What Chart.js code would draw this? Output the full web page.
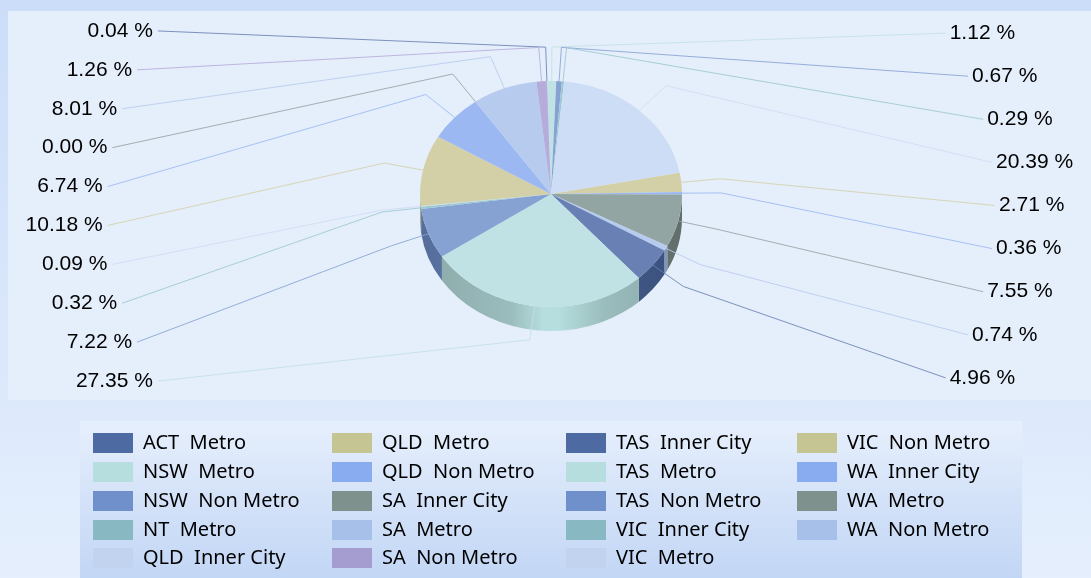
<!DOCTYPE html>
<html>
<head>
<meta charset="utf-8">
<script src="https://cdn.jsdelivr.net/npm/chart.js@4/dist/chart.umd.min.js"></script>
<style>
  html, body { margin: 0; padding: 0; background: #dce7f9; overflow: hidden; }
  #wrap { width: 1091px; height: 578px; position: relative; }
</style>
</head>
<body>
<div id="wrap"><canvas id="myChart" width="1091" height="578"></canvas></div>
<script>
// slices in the order they run clockwise round the pie
const categories = [
  'ACT  Metro', 'NSW  Metro', 'NSW  Non Metro', 'NT  Metro', 'QLD  Inner City',
  'QLD  Metro', 'QLD  Non Metro', 'SA  Inner City', 'SA  Metro', 'TAS  Inner City',
  'TAS  Metro', 'TAS  Non Metro', 'VIC  Inner City', 'VIC  Metro', 'VIC  Non Metro',
  'WA  Inner City', 'WA  Metro', 'WA  Non Metro', 'SA  Non Metro',
];
const shares = [
  0.04, 1.12, 0.67, 0.29, 20.39, 2.71, 0.36, 7.55, 0.74, 4.96,
  27.35, 7.22, 0.32, 0.09, 10.18, 6.74, 0.0, 8.01, 1.26,
];
// legend swatch, lighter top face
const swatchColors = [
  '#4e6aa3', '#b6dede', '#7090cb', '#88b9c3', '#c2d3f0', '#c4c592', '#89abf0', '#7f918d', '#a7c0ea',
  '#4e6aa3', '#b6dede', '#7090cb', '#88b9c3', '#c2d3f0', '#c4c592', '#89abf0', '#7f918d', '#a7c0ea', '#a59dd0',
];
const faceColors = [
  '#6880b4', '#c1e2e4', '#86a2d3', '#9cc8d0', '#cdddf5', '#d3d0a8', '#9bb8f2', '#93a5a3', '#b6cbee',
  '#6880b4', '#c1e2e4', '#86a2d3', '#9cc8d0', '#cdddf5', '#d3d0a8', '#9bb8f2', '#93a5a3', '#b6cbee', '#b5acdb',
];
const legendColumns = [93, 332, 566, 797];
const legendRows = [443, 472, 501, 530, 558];

const squash = 113 / 131;
const depth = 24;
const elbowFactor = 1.3;

function shade(hex, f) {
  const n = parseInt(hex.slice(1), 16);
  const c = [n >> 16, (n >> 8) & 255, n & 255].map((v) => Math.round(v * f));
  return 'rgb(' + c.join(',') + ')';
}

const background = {
  id: 'background',
  beforeDraw(chart) {
    const c = chart.ctx;
    let g = c.createLinearGradient(0, 0, 0, 578);
    g.addColorStop(0, '#cbddf8');
    g.addColorStop(1, '#e5effd');
    c.fillStyle = g;
    c.fillRect(0, 0, 1091, 578);
    c.fillStyle = '#e5eefb';
    c.fillRect(8, 11, 1083, 389);
    g = c.createLinearGradient(0, 421, 0, 578);
    g.addColorStop(0, '#e6effc');
    g.addColorStop(1, '#c2d6f5');
    c.fillStyle = g;
    c.fillRect(80, 421, 942, 157);
  },
};

// side wall of the pie, then squash the arcs into an ellipse
const tilt = {
  id: 'tilt',
  beforeDatasetsDraw(chart) {
    const c = chart.ctx;
    const arcs = chart.getDatasetMeta(0).data;
    arcs.forEach((arc, i) => {
      const r = arc.outerRadius;
      const start = arc.startAngle;
      const end = arc.endAngle;
      // only the part facing the viewer: 0..PI in canvas angles
      for (const shift of [0, Math.PI * 2]) {
        const s = Math.max(start, shift);
        const e = Math.min(end, shift + Math.PI);
        if (e <= s) continue;
        const g = c.createLinearGradient(arc.x - r, 0, arc.x + r, 0);
        [[0, 0.76], [0.15, 0.8], [0.35, 0.85], [0.47, 1], [0.53, 1], [0.7, 0.85], [0.85, 0.8], [1, 0.76]]
          .forEach(([p, f]) => g.addColorStop(p, shade(swatchColors[i], f)));
        c.beginPath();
        c.ellipse(arc.x, arc.y, r, r * squash, 0, s, e);
        c.ellipse(arc.x, arc.y + depth, r, r * squash, 0, e, s, true);
        c.closePath();
        c.fillStyle = g;
        c.fill();
      }
    });
    const a = arcs[0];
    c.save();
    c.translate(a.x, a.y);
    c.scale(1, squash);
    c.translate(-a.x, -a.y);
  },
  afterDatasetsDraw(chart) {
    chart.ctx.restore();
  },
};

// leader lines and percent labels, placed on an ellipse round the pie
const leaders = {
  id: 'leaders',
  afterDatasetsDraw(chart) {
    const c = chart.ctx;
    const arcs = chart.getDatasetMeta(0).data;
    const items = arcs.map((arc, i) => {
      let mid = (arc.startAngle + arc.endAngle) / 2 + Math.PI / 2;
      mid = (mid + Math.PI * 2) % (Math.PI * 2);
      return { arc, i, mid };
    });
    const right = items.filter((d) => d.mid < Math.PI).sort((a, b) => a.mid - b.mid);
    const left = items.filter((d) => d.mid >= Math.PI).sort((a, b) => b.mid - a.mid);
    const place = (list, sign, cy, gap) => {
      list.forEach((d, row) => {
        const r = d.arc.outerRadius;
        const sx = Math.sin(d.mid);
        const cs = Math.cos(d.mid);
        const y = cy + (row - (list.length - 1) / 2) * gap;
        const x = d.arc.x + sign * 448 * Math.sqrt(1 - Math.pow((y - cy) / 378, 2));
        c.save();
        c.globalAlpha = 0.85;
        c.beginPath();
        c.moveTo(d.arc.x + r * sx, d.arc.y - r * squash * cs);
        c.lineTo(d.arc.x + elbowFactor * r * sx, d.arc.y - elbowFactor * r * squash * cs);
        c.lineTo(x - sign * 4, y + 1);
        c.strokeStyle = faceColors[d.i];
        c.lineWidth = 1;
        c.stroke();
        c.restore();
        c.fillStyle = '#000';
        c.font = '21px "Liberation Sans"';
        c.textBaseline = 'middle';
        c.textAlign = sign > 0 ? 'left' : 'right';
        c.fillText(shares[d.i].toFixed(2) + ' %', sign > 0 ? x : x - 1, y + 1);
      });
    };
    place(right, 1, 204.5, 43.1);
    place(left, -1, 205, 38.9);
  },
};

// column-first legend, alphabetical
const columnLegend = {
  id: 'columnLegend',
  afterDraw(chart) {
    const c = chart.ctx;
    const names = categories.slice().sort();
    names.forEach((name, n) => {
      const i = categories.indexOf(name);
      const x = legendColumns[Math.floor(n / legendRows.length)];
      const y = legendRows[n % legendRows.length];
      c.fillStyle = swatchColors[i];
      c.fillRect(x, y - 10, 40, 20);
      c.fillStyle = '#000';
      c.font = '20px "Noto Sans"';
      c.textBaseline = 'middle';
      c.textAlign = 'left';
      c.fillText(name, x + 50, y);
    });
  },
};

const config = {
  type: 'pie',
  data: {
    labels: categories,
    datasets: [
      {
        data: shares,
        backgroundColor: faceColors,
        borderWidth: 0,
      },
    ],
  },
  options: {
    responsive: false,
    animation: false,
    rotation: -1.86,
    layout: {
      padding: { left: 420, right: 409, top: 63, bottom: 253 },
    },
    plugins: {
      legend: { display: false },
      tooltip: { enabled: false },
    },
  },
  plugins: [background, tilt, leaders, columnLegend],
};

const ctx = document.getElementById('myChart').getContext('2d');
const myChart = new Chart(ctx, config);
</script>
</body>
</html>
